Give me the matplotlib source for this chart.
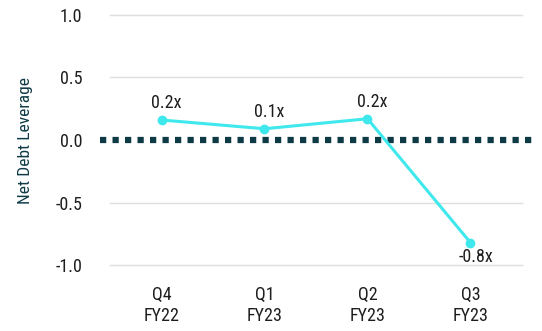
import matplotlib.pyplot as plt

# data
quarters = ['Q4\nFY22', 'Q1\nFY23', 'Q2\nFY23', 'Q3\nFY23']
leverage = [0.16, 0.09, 0.17, -0.82]
labels = ['0.2x', '0.1x', '0.2x', '-0.8x']
yticks = [-1.0, -0.5, 0.0, 0.5, 1.0]

plt.rcParams['font.family'] = ['Roboto Condensed', 'DejaVu Sans']

cyan = '#3ee8ec'
dark = '#0e3a46'
txt = '#1e1e1e'

fig = plt.figure(figsize=(5.42, 3.31), dpi=100)
ax = fig.add_axes([0.203, 0.199, 0.76, 0.756])

x = list(range(len(quarters)))
ax.set_xlim(-0.5, 3.5)
ax.set_ylim(-1.0, 1.0)

for t in yticks:
    if t != 0:
        ax.axhline(t, color='#dedede', lw=1, zorder=1, clip_on=False)

# dotted zero line, a bit wider than the grid
ax.plot([-0.6, 3.62], [0, 0], color=dark, lw=4.5, linestyle=(0, (1, 1)),
        dash_capstyle='butt', zorder=2, clip_on=False)

ax.plot(x, leverage, color=cyan, lw=2.2, marker='o', markersize=6, zorder=3, clip_on=False)

for xi, v, lab in zip(x, leverage, labels):
    if v >= 0:
        ax.text(xi + 0.05, v + 0.06, lab, ha='center', va='bottom', fontsize=13, color=txt)
    else:
        ax.text(xi + 0.05, v - 0.04, lab, ha='center', va='top', fontsize=13, color=txt)

ax.set_xticks(x)
ax.set_xticklabels(quarters, fontsize=13, color=txt, linespacing=1.2)
ax.set_yticks(yticks)
ax.set_yticklabels(['%.1f' % t for t in yticks], fontsize=13, color=txt)
ax.tick_params(axis='both', length=0)
ax.tick_params(axis='y', pad=20)
ax.tick_params(axis='x', pad=15)

for s in ax.spines.values():
    s.set_visible(False)

ax.set_ylabel('Net Debt Leverage', fontsize=12.5, color=dark, labelpad=16)

fig.savefig('out.png', dpi=100)
